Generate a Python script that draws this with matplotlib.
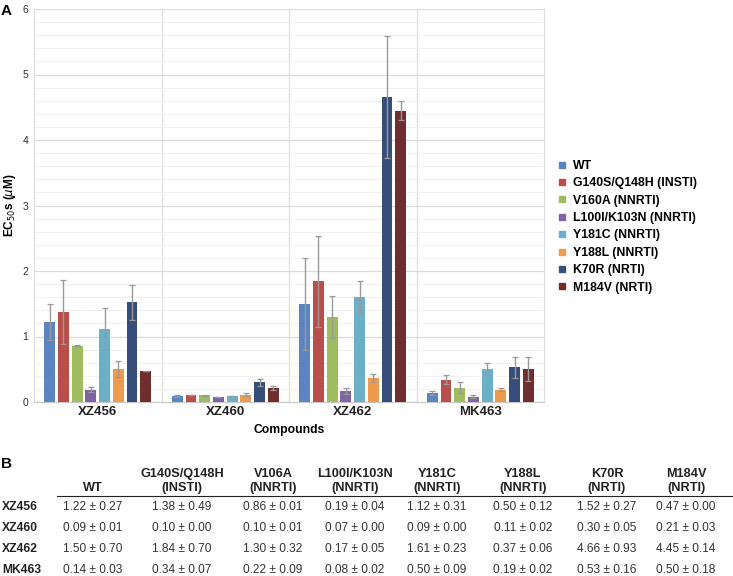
import numpy as np
import matplotlib
matplotlib.use('Agg')
import matplotlib.pyplot as plt
from matplotlib.lines import Line2D

plt.rcParams['font.family'] = ['Liberation Sans', 'DejaVu Sans']

# ── Data ──────────────────────────────────────────────
compounds = ['XZ456', 'XZ460', 'XZ462', 'MK463']
legend_labels = ['WT', 'G140S/Q148H (INSTI)', 'V160A (NNRTI)', 'L100I/K103N (NNRTI)',
                 'Y181C (NNRTI)', 'Y188L (NNRTI)', 'K70R (NRTI)', 'M184V (NRTI)']
table_head1 = ['', 'G140S/Q148H', 'V106A', 'L100I/K103N', 'Y181C', 'Y188L', 'K70R', 'M184V']
table_head2 = ['WT', '(INSTI)', '(NNRTI)', '(NNRTI)', '(NNRTI)', '(NNRTI)', '(NRTI)', '(NRTI)']

# rows = compounds, columns = mutants
ec50_mean = np.array([
    [1.22, 1.38, 0.86, 0.19, 1.12, 0.50, 1.52, 0.47],
    [0.09, 0.10, 0.10, 0.07, 0.09, 0.11, 0.30, 0.21],
    [1.50, 1.84, 1.30, 0.17, 1.61, 0.37, 4.66, 4.45],
    [0.14, 0.34, 0.22, 0.08, 0.50, 0.19, 0.53, 0.50],
])
ec50_sd = np.array([
    [0.27, 0.49, 0.01, 0.04, 0.31, 0.12, 0.27, 0.00],
    [0.01, 0.00, 0.01, 0.00, 0.00, 0.02, 0.05, 0.03],
    [0.70, 0.70, 0.32, 0.05, 0.23, 0.06, 0.93, 0.14],
    [0.03, 0.07, 0.09, 0.02, 0.09, 0.02, 0.16, 0.18],
])

COLORS = ['#5B84C1', '#BA4E4B', '#9FBC5E', '#7E64A3',
          '#6BAFC8', '#EF9B4F', '#364E79', '#6F2D2D']

W, H = 733, 576
fig = plt.figure(figsize=(W / 100, H / 100), dpi=100)
fig.patch.set_facecolor('white')

def fx(px): return px / W
def fy(py): return 1 - py / H

# ── Panel A ───────────────────────────────────────────
ax = fig.add_axes([fx(34), fy(402), fx(544) - fx(34), fy(9) - fy(402)])
n_grp, n_mut = ec50_mean.shape
pitch = 0.1075
bw = 0.086
x0 = np.arange(n_grp)
for j in range(n_mut):
    xs = x0 + (j - (n_mut - 1) / 2) * pitch
    ax.bar(xs, ec50_mean[:, j], width=bw, color=COLORS[j], zorder=3)
    eb = ax.errorbar(xs, ec50_mean[:, j], yerr=ec50_sd[:, j], fmt='none',
                     ecolor='#9a9a9a', elinewidth=1.0, capsize=2.2, capthick=0.9, zorder=4)
    for cl in eb[1]:
        cl.set_color('#3a3a3a')

ax.set_xlim(-0.5, n_grp - 0.5)
ax.set_ylim(0, 6)
ax.set_yticks(np.arange(0, 7, 1))
ax.set_yticks(np.arange(0, 6.01, 0.2), minor=True)
ax.set_xticks(x0)
ax.set_xticklabels(compounds, fontweight='bold', fontsize=9.5, color='#222222')
ax.tick_params(axis='x', length=0, pad=3)
ax.tick_params(axis='y', which='both', length=0, pad=4, labelsize=7.5, labelcolor='#333333')
ax.grid(axis='y', which='major', color='#dcdcdc', lw=0.9, zorder=0)
ax.grid(axis='y', which='minor', color='#f1f1f1', lw=0.7, zorder=0)
for xv in np.arange(0.5, n_grp - 0.5, 1):
    ax.axvline(xv, color='#dddddd', lw=0.9, zorder=1)
for sp in ax.spines.values():
    sp.set_color('#dddddd')
ax.spines['bottom'].set_color('#c8c8c8')
ax.set_ylabel('EC$_{50}$s ($\\mu$M)', fontweight='bold', fontsize=8.5, labelpad=3)
ax.set_xlabel('Compounds', fontweight='bold', fontsize=8.7, labelpad=4)

handles = [Line2D([], [], marker='s', ls='none', color=c, markersize=4) for c in COLORS]
fig.legend(handles, legend_labels, loc='upper left', bbox_to_anchor=(fx(552), fy(155)),
           frameon=False, prop={'weight': 'bold', 'size': 8.8}, handlelength=0.8,
           handletextpad=0.5, labelspacing=0.44, borderaxespad=0)

fig.text(fx(1), fy(11), 'A', fontsize=11, fontweight='bold', va='center', ha='left')

# ── Panel B ───────────────────────────────────────────
fig.text(fx(1), fy(464), 'B', fontsize=11, fontweight='bold', va='center', ha='left')
col_x = [93, 182, 273, 355, 437, 523, 607, 686]
row_y = [507, 528, 549, 570]
for cx, h1, h2 in zip(col_x, table_head1, table_head2):
    fig.text(fx(cx), fy(474), h1, fontsize=9.2, fontweight='bold', ha='center', va='center', color='#222222')
    fig.text(fx(cx), fy(488), h2, fontsize=9.2, fontweight='bold', ha='center', va='center', color='#222222')
fig.add_artist(Line2D([fx(57), fx(733)], [fy(496), fy(496)], color='#222222', lw=0.8))
for i, comp in enumerate(compounds):
    fig.text(fx(2), fy(row_y[i]), comp, fontsize=8.7, fontweight='bold', ha='left', va='center', color='#222222')
    for j, cx in enumerate(col_x):
        fig.text(fx(cx), fy(row_y[i]), f'{ec50_mean[i, j]:.2f} \u00b1 {ec50_sd[i, j]:.2f}',
                 fontsize=8.6, ha='center', va='center', color='#333333')

fig.savefig('out.png', dpi=100, facecolor='white')
